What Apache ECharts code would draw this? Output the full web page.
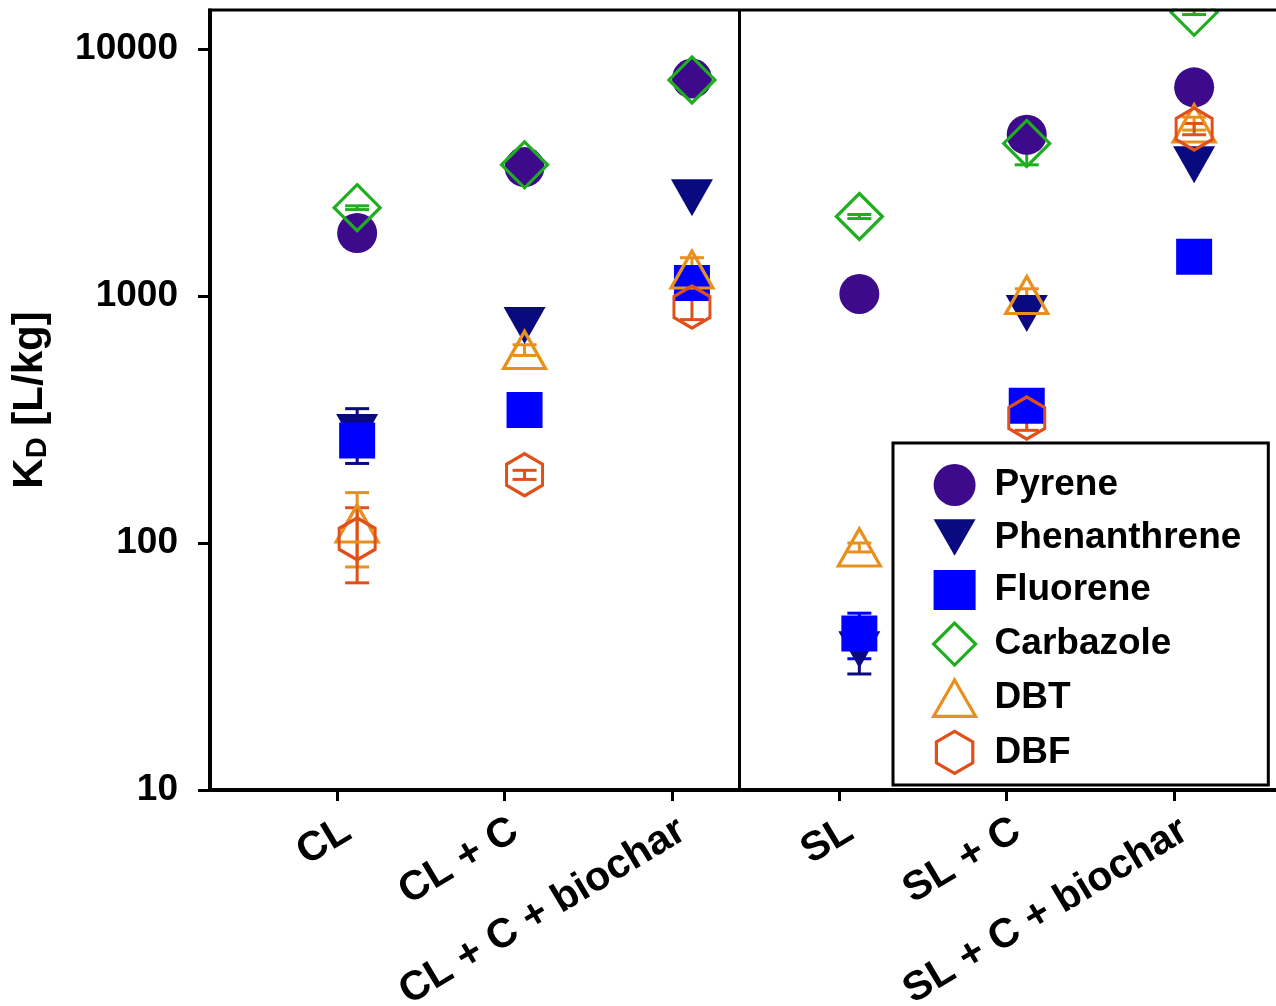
<!DOCTYPE html>
<html>
<head>
<meta charset="utf-8">
<script src="https://cdn.jsdelivr.net/npm/echarts@6/dist/echarts.min.js"></script>
<style>
  html, body { margin: 0; padding: 0; background: #fff; }
  #chart { width: 1276px; height: 1006px; }
</style>
</head>
<body>
<div id="chart"></div>
<script>
// ---------------- data ----------------
const categories = ['CL', 'CL + C', 'CL + C + biochar', 'SL', 'SL + C', 'SL + C + biochar'];
const yTicks = [10, 100, 1000, 10000];

const pyrene        = [1800, 3330, 7600, 1020, 4500, 7000];
const pyreneSd      = [null, null, null, null, null, null];
const phenanthrene  = [280, 760, 2500, 37, 850, 3400];
const phenanthreneSd= [70, null, null, 7.5, null, null];
const fluorene      = [260, 346, 1130, 43, 360, 1443];
const fluoreneSd    = [25, null, null, 9, 25, null];
const carbazole     = [2280, 3400, 7500, 2100, 4150, 14100];
const carbazoleSd   = [40, 130, 360, 40, 750, 300];
const dbt           = [120, 605, 1280, 96, 1010, 5000];
const dbtSd         = [40, 30, 150, 4, 60, 300];
const dbf           = [104, 189, 903, null, 321, 4750];
const dbfSd         = [35, 8, 100, null, 35, 250];

// ---------------- styling ----------------
const X_OFFSET = 0.12;     // markers sit slightly right of the tick
const DIVIDER_X = 3.4;     // vertical separator between the CL and SL panels
const HEX = 'path://M0,-10 L8.66,-5 L8.66,5 L0,10 L-8.66,5 L-8.66,-5 Z';
const TRI_UP = 'path://M5,0 L10,8.66 L0,8.66 Z';
const TRI_DOWN = 'path://M0,0 L10,0 L5,8.66 Z';
const SQUARE = 'path://M0,0 L38,0 L38,36 L0,36 Z';

const seriesDefs = [
  { name: 'Pyrene',       vals: pyrene,       sd: pyreneSd,       symbol: 'circle',   icon: 'circle',  size: 40,       rotate: 0,   color: '#3e0a8c', filled: true },
  { name: 'Phenanthrene', vals: phenanthrene, sd: phenanthreneSd, symbol: 'triangle', icon: TRI_DOWN, size: [42, 37], rotate: 180, color: '#0a0a80', filled: true },
  { name: 'Fluorene',     vals: fluorene,     sd: fluoreneSd,     symbol: 'rect',     icon: SQUARE,   size: [36, 36], rotate: 0,   color: '#0000ff', filled: true },
  { name: 'Carbazole',    vals: carbazole,    sd: carbazoleSd,    symbol: 'diamond',  icon: 'diamond', size: [46, 46], rotate: 0,   color: '#1fae1f', filled: false },
  { name: 'DBT',          vals: dbt,          sd: dbtSd,          symbol: 'triangle', icon: TRI_UP,   size: [42, 37], rotate: 0,   color: '#e8901e', filled: false },
  { name: 'DBF',          vals: dbf,          sd: dbfSd,          symbol: HEX,        icon: HEX,      size: [36, 42], rotate: 0,   color: '#e0501a', filled: false }
];

function itemStyleFor(d) {
  return d.filled
    ? { color: d.color, borderWidth: 0, opacity: 1 }
    : { color: 'rgba(0,0,0,0)', borderColor: d.color, borderWidth: 3.2, opacity: 1 };
}

const series = [];
seriesDefs.forEach(function (d, k) {
  const pts = [];
  const errs = [];
  d.vals.forEach(function (v, i) {
    if (v == null) return;
    const x = i + 1 + X_OFFSET;
    pts.push([x, v]);
    const s = d.sd[i];
    if (s != null) errs.push([x, v - s, v + s]);
  });
  const sc = {
    name: d.name,
    type: 'scatter',
    data: pts,
    symbol: d.symbol,
    symbolSize: d.size,
    symbolRotate: d.rotate,
    itemStyle: itemStyleFor(d),
    emphasis: { disabled: true },
    z: 2
  };
  if (k === 0) {
    sc.markLine = {
      silent: true,
      symbol: 'none',
      label: { show: false },
      lineStyle: { color: '#000', width: 3, type: 'solid', opacity: 1 },
      data: [{ xAxis: DIVIDER_X }]
    };
  }
  series.push(sc);
  const col = d.color;
  series.push({
    name: d.name + ' err',
    type: 'custom',
    data: errs,
    encode: { x: 0, y: [1, 2] },
    z: 2,
    renderItem: function (params, api) {
      const x = api.value(0);
      const top = api.coord([x, api.value(2)]);
      const bot = api.coord([x, api.value(1)]);
      const w = 12;
      const st = { stroke: col, lineWidth: 3 };
      return {
        type: 'group',
        children: [
          { type: 'line', shape: { x1: top[0], y1: top[1], x2: bot[0], y2: bot[1] }, style: st },
          { type: 'line', shape: { x1: top[0] - w, y1: top[1], x2: top[0] + w, y2: top[1] }, style: st },
          { type: 'line', shape: { x1: bot[0] - w, y1: bot[1], x2: bot[0] + w, y2: bot[1] }, style: st }
        ]
      };
    }
  });
});

const FONT = 'Liberation Sans, Arial, sans-serif';
const chart = echarts.init(document.getElementById('chart'), null, { renderer: 'canvas' });
chart.setOption({
  animation: false,
  backgroundColor: '#fff',
  grid: { left: 210, top: 10, right: 0, bottom: 216, containLabel: false, outerBoundsMode: 'none' },
  xAxis: {
    type: 'value',
    min: 0.241,
    max: 6.609,
    splitLine: { show: false },
    axisLine: { show: true, lineStyle: { color: '#000', width: 4 } },
    axisTick: { show: true, inside: false, length: 11, lineStyle: { color: '#000', width: 3 },
                customValues: [1, 2, 3, 4, 5, 6] },
    axisLabel: {
      customValues: [1, 2, 3, 4, 5, 6],
      formatter: function (v) { return categories[Math.round(v) - 1] || ''; },
      rotate: 31,
      align: 'right',
      verticalAlign: 'top',
      margin: 20,
      color: '#000',
      fontFamily: FONT,
      fontWeight: 'bold',
      fontSize: 41
    }
  },
  yAxis: {
    type: 'log',
    logBase: 10,
    min: 10,
    max: 14400,
    splitLine: { show: false },
    minorTick: { show: false },
    axisLine: { show: true, lineStyle: { color: '#000', width: 4 } },
    axisTick: { show: true, inside: false, length: 12, lineStyle: { color: '#000', width: 3 },
                customValues: yTicks },
    axisLabel: {
      customValues: yTicks,
      formatter: function (v) { return String(Math.round(v)); },
      margin: 32,
      color: '#000',
      fontFamily: FONT,
      fontWeight: 'bold',
      fontSize: 37
    },
    name: '{k|K}{d|D}{k| [L/kg]}',
    nameLocation: 'middle',
    nameRotate: 90,
    nameGap: 158,
    nameTextStyle: {
      rich: {
        k: { fontFamily: FONT, fontWeight: 'bold', fontSize: 42, color: '#000' },
        d: { fontFamily: FONT, fontWeight: 'bold', fontSize: 29, color: '#000', padding: [14, 0, 0, 0] }
      }
    }
  },
  legend: {
    show: true,
    orient: 'vertical',
    left: 893,
    top: 443,
    padding: [21, 27, 10, 39],
    itemWidth: 42,
    itemHeight: 42,
    itemGap: 10.5,
    backgroundColor: '#fff',
    borderColor: '#000',
    borderWidth: 3,
    borderRadius: 0,
    selectedMode: false,
    textStyle: {
      fontFamily: FONT,
      fontWeight: 'bold',
      fontSize: 37,
      color: '#000',
      lineHeight: 42,
      padding: [0, 0, 0, 14]
    },
    data: seriesDefs.map(function (d) {
      return { name: d.name, icon: d.icon, itemStyle: itemStyleFor(d) };
    })
  },
  graphic: [
    { type: 'rect', z: 100, shape: { x: 0, y: 0, width: 1276, height: 8.5 }, style: { fill: '#fff' } },
    { type: 'line', z: 101, shape: { x1: 208, y1: 10, x2: 1276, y2: 10 }, style: { stroke: '#000', lineWidth: 3 } }
  ],
  series: series
});
</script>
</body>
</html>
